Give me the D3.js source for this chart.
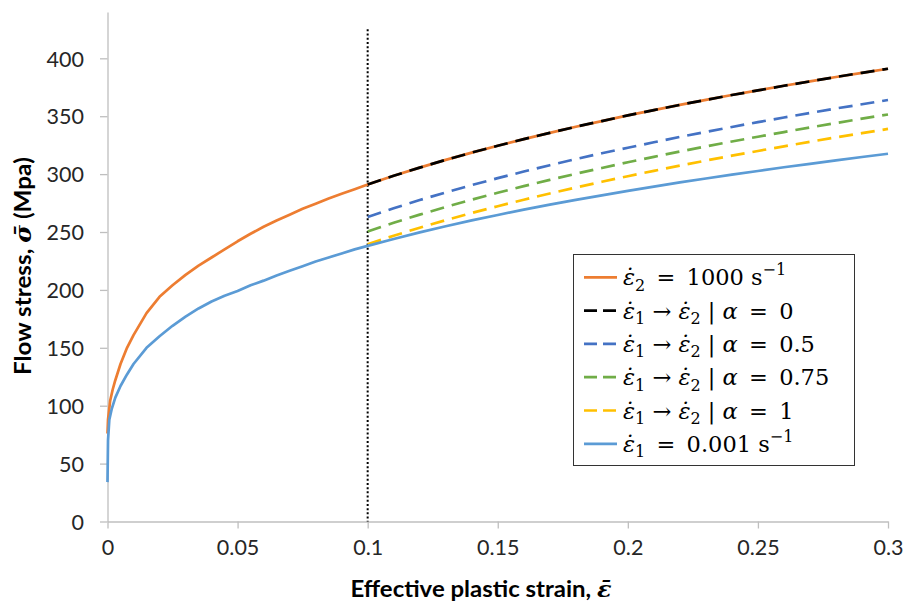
<!DOCTYPE html>
<html>
<head>
<meta charset="utf-8">
<script src="https://cdn.jsdelivr.net/npm/d3@7"></script>
<style>
  html, body { margin: 0; padding: 0; background: #ffffff; }
  svg { display: block; }
  text { white-space: pre; }
</style>
</head>
<body>
<svg id="chart" width="906" height="604"></svg>
<script>
// ---------------- DATA ----------------
// Strain rate 1000 s^-1 (orange, full range)
const strainHigh = [0, 0.0002, 0.001, 0.002, 0.003, 0.005, 0.0075, 0.01, 0.015, 0.02, 0.025, 0.03, 0.035, 0.04, 0.045, 0.05, 0.055, 0.06, 0.065, 0.07, 0.075, 0.08, 0.085, 0.09, 0.095, 0.1,
  0.11, 0.12, 0.13, 0.14, 0.15, 0.16, 0.17, 0.18, 0.19, 0.2, 0.21, 0.22, 0.23, 0.24, 0.25, 0.26, 0.27, 0.28, 0.29, 0.3];
const stressHigh = [76, 88, 104, 114, 122, 136, 150, 161, 180, 194, 204, 213, 221, 228, 235, 242, 248.5, 254.5, 260, 265, 270, 274.5, 279, 283, 287, 291,
  298.6, 305.6, 312.3, 318.6, 324.5, 330.2, 335.6, 340.9, 345.8, 350.7, 355.3, 359.8, 364.1, 368.3, 372.3, 376.3, 380.1, 383.9, 387.5, 391];

// Strain rate 0.001 s^-1 (light blue, full range)
const strainLow = [0, 0.0002, 0.0007, 0.0016, 0.003, 0.005, 0.0075, 0.01, 0.015, 0.02, 0.025, 0.03, 0.035, 0.04, 0.045, 0.05, 0.055, 0.06, 0.065, 0.07, 0.075, 0.08, 0.085, 0.09, 0.095, 0.1,
  0.11, 0.12, 0.13, 0.14, 0.15, 0.16, 0.17, 0.18, 0.19, 0.2, 0.21, 0.22, 0.23, 0.24, 0.25, 0.26, 0.27, 0.28, 0.29, 0.3];
const stressLow = [34, 70, 88, 97, 107, 117, 127, 136, 150, 160, 169, 177, 184, 190, 195, 199, 204, 208, 212.5, 216.5, 220.5, 224.5, 228, 231.5, 235, 238,
  244, 249.7, 255, 260, 264.7, 269.3, 273.6, 277.7, 281.7, 285.5, 289.2, 292.8, 296.2, 299.5, 302.7, 305.9, 308.9, 311.9, 314.8, 317.6];

// Rate jump at strain 0.1 (dashed series)
const strainJump = [0.1, 0.11, 0.12, 0.13, 0.14, 0.15, 0.16, 0.17, 0.18, 0.19, 0.2, 0.21, 0.22, 0.23, 0.24, 0.25, 0.26, 0.27, 0.28, 0.29, 0.3];
const stressAlpha0   = [291, 298.6, 305.6, 312.3, 318.6, 324.5, 330.2, 335.6, 340.9, 345.8, 350.7, 355.3, 359.8, 364.1, 368.3, 372.3, 376.3, 380.1, 383.9, 387.5, 391];
const stressAlpha05  = [263, 270.5, 277.6, 284.2, 290.5, 296.5, 302.2, 307.7, 313, 318, 322.8, 327.5, 332.1, 336.5, 340.7, 344.9, 348.9, 352.8, 356.7, 360.3, 364];
const stressAlpha075 = [250.5, 258, 265, 271.6, 277.9, 283.9, 289.6, 295, 300.3, 305.3, 310.2, 314.9, 319.5, 323.9, 328.2, 332.3, 336.3, 340.3, 344.1, 347.9, 351.5];
const stressAlpha1   = [239.5, 246.8, 253.7, 260.2, 266.4, 272.3, 277.9, 283.3, 288.4, 293.4, 298.2, 302.8, 307.3, 311.7, 315.9, 320, 324, 327.9, 331.7, 335.4, 339];

// Axis ticks
const xTickValues = [0, 0.05, 0.1, 0.15, 0.2, 0.25, 0.3];
const xTickLabels = ["0", "0.05", "0.1", "0.15", "0.2", "0.25", "0.3"];
const yTickValues = [0, 50, 100, 150, 200, 250, 300, 350, 400];
const yTickLabels = ["0", "50", "100", "150", "200", "250", "300", "350", "400"];

// Vertical marker at the strain-rate jump
const jumpStrain = 0.1;
const jumpTop = 425;

// ---------------- CHART ----------------
const svg = d3.select("#chart");
const x = d3.scaleLinear().domain([0, 0.3]).range([107.5, 888]);
const y = d3.scaleLinear().domain([0, 440]).range([521.5, 12]);

const axisColor = "#BFBFBF";
const textColor = "#262626";
const sansFont = "Lato, 'Open Sans', sans-serif";

// Y axis
const yAxis = d3.axisLeft(y)
  .tickValues(yTickValues)
  .tickFormat((d, i) => yTickLabels[i])
  .tickSize(7.5)
  .tickSizeOuter(0)
  .tickPadding(16);
const gy = svg.append("g").attr("transform", "translate(107.5,0)").call(yAxis);
gy.select(".domain").attr("stroke", axisColor).attr("stroke-width", 1.3);
gy.selectAll(".tick line").attr("stroke", axisColor).attr("stroke-width", 1.3);
gy.selectAll(".tick text").attr("fill", textColor).attr("font-family", sansFont)
  .attr("font-size", 21.5).attr("dy", "0.36em");

// X axis
const xAxis = d3.axisBottom(x)
  .tickValues(xTickValues)
  .tickFormat((d, i) => xTickLabels[i])
  .tickSize(7)
  .tickSizeOuter(0)
  .tickPadding(11);
const gx = svg.append("g").attr("transform", "translate(0,521.5)").call(xAxis);
gx.select(".domain").attr("stroke", axisColor).attr("stroke-width", 1.3);
gx.selectAll(".tick line").attr("stroke", axisColor).attr("stroke-width", 1.3);
gx.selectAll(".tick text").attr("fill", textColor).attr("font-family", sansFont)
  .attr("font-size", 21.5);

// Dotted vertical marker
svg.append("line")
  .attr("x1", x(jumpStrain)).attr("x2", x(jumpStrain))
  .attr("y1", y(jumpTop)).attr("y2", y(0))
  .attr("stroke", "#000").attr("stroke-width", 2)
  .attr("stroke-dasharray", "2,2.2");

// Series
const series = [
  { xs: strainHigh, ys: stressHigh, color: "#ED7D31", dash: null },
  { xs: strainJump, ys: stressAlpha0, color: "#000000", dash: "14,8" },
  { xs: strainJump, ys: stressAlpha05, color: "#4472C4", dash: "14,8" },
  { xs: strainJump, ys: stressAlpha075, color: "#70AD47", dash: "14,8" },
  { xs: strainJump, ys: stressAlpha1, color: "#FFC000", dash: "14,8" },
  { xs: strainLow, ys: stressLow, color: "#5B9BD5", dash: null }
];
const line = d3.line().x(d => x(d[0])).y(d => y(d[1]));
series.forEach(s => {
  const pts = s.xs.map((v, i) => [v, s.ys[i]]);
  const p = svg.append("path").datum(pts)
    .attr("d", line)
    .attr("fill", "none")
    .attr("stroke", s.color)
    .attr("stroke-width", 2.7)
    .attr("stroke-linejoin", "round");
  if (s.dash) p.attr("stroke-dasharray", s.dash);
});

// Axis titles
const xt = svg.append("text")
  .attr("x", 481).attr("y", 597)
  .attr("text-anchor", "middle")
  .attr("font-family", sansFont).attr("font-weight", "bold").attr("font-size", 23)
  .attr("fill", "#000")
  .attr("textLength", 261).attr("lengthAdjust", "spacingAndGlyphs");
xt.append("tspan").text("Effective plastic strain, ");
xt.append("tspan").attr("font-family", "'DejaVu Serif', serif").attr("font-style", "italic")
  .text("\u03B5\u0304");

const yt = svg.append("text")
  .attr("transform", "translate(31,266) rotate(-90)")
  .attr("text-anchor", "middle")
  .attr("font-family", sansFont).attr("font-weight", "bold").attr("font-size", 23)
  .attr("fill", "#000")
  .attr("textLength", 218).attr("lengthAdjust", "spacingAndGlyphs");
yt.append("tspan").text("Flow stress, ");
yt.append("tspan").attr("font-family", "'DejaVu Serif', serif").attr("font-style", "italic")
  .text("\u03C3\u0304");
yt.append("tspan").text(" (Mpa)");

// Legend
const legend = svg.append("g");
legend.append("rect")
  .attr("x", 573.5).attr("y", 254.5).attr("width", 281).attr("height", 211)
  .attr("fill", "#fff").attr("stroke", "#333").attr("stroke-width", 1);

const epsDot = "\u03B5\u0307";
const EQ = "\u2002=\u2002";
const legendRows = [
  [["i", epsDot], ["sub", "2"], ["n", EQ + "1000 s"], ["sup", "\u22121"]],
  [["i", epsDot], ["sub", "1"], ["n", " \u2192 "], ["i", epsDot], ["sub", "2"], ["n", " | "], ["i", "\u03B1"], ["n", EQ + "0"]],
  [["i", epsDot], ["sub", "1"], ["n", " \u2192 "], ["i", epsDot], ["sub", "2"], ["n", " | "], ["i", "\u03B1"], ["n", EQ + "0.5"]],
  [["i", epsDot], ["sub", "1"], ["n", " \u2192 "], ["i", epsDot], ["sub", "2"], ["n", " | "], ["i", "\u03B1"], ["n", EQ + "0.75"]],
  [["i", epsDot], ["sub", "1"], ["n", " \u2192 "], ["i", epsDot], ["sub", "2"], ["n", " | "], ["i", "\u03B1"], ["n", EQ + "1"]],
  [["i", epsDot], ["sub", "1"], ["n", EQ + "0.001 s"], ["sup", "\u22121"]]
];
const legendSwatchDash = [null, "13,6", "13,6", "13,6", "13,6", null];

series.forEach((s, i) => {
  const cy = 277.3 + 33.3 * i;
  const ln = legend.append("line")
    .attr("x1", 584).attr("x2", 617).attr("y1", cy).attr("y2", cy)
    .attr("stroke", s.color).attr("stroke-width", 2.7);
  if (legendSwatchDash[i]) ln.attr("stroke-dasharray", legendSwatchDash[i]);

  const t = legend.append("text")
    .attr("x", 623).attr("y", cy + 8)
    .attr("font-family", "'DejaVu Serif', serif").attr("font-size", 22.5)
    .attr("fill", "#000");
  let shift = 0;
  legendRows[i].forEach(([kind, str]) => {
    const ts = t.append("tspan").text(str);
    let target = 0;
    if (kind === "i") ts.attr("font-style", "italic");
    if (kind === "sub") { ts.attr("font-size", 16); target = 5.5; }
    if (kind === "sup") { ts.attr("font-size", 16); target = -10; }
    ts.attr("dy", target - shift);
    shift = target;
  });
});
</script>
</body>
</html>
